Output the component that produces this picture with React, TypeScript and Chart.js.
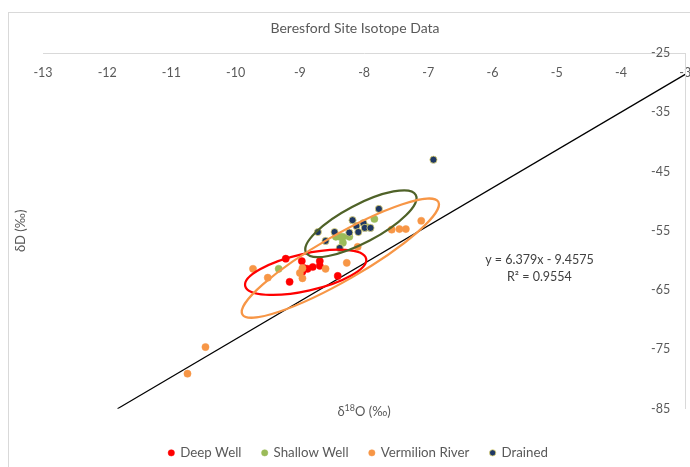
import React, { useEffect, useRef } from "react";
import { Chart, registerables } from "chart.js";

Chart.register(...registerables);

// ---------- data ----------
const deepWellX = [-9.22, -8.97, -8.69, -8.69, -8.8, -8.88, -8.93, -8.96, -9.16, -8.41];
const deepWellY = [-59.7, -60.1, -60.1, -60.9, -61.1, -61.4, -61.3, -61.9, -63.6, -62.6];

const shallowWellX = [-7.84, -8.44, -8.38, -8.33, -8.23, -8.33, -9.33, -7.95];
const shallowWellY = [-53.0, -56.0, -56.0, -56.0, -56.0, -57.0, -61.4, -54.4];

const vermilionX = [-7.11, -7.57, -7.45, -7.35, -8.1, -8.27, -8.6, -8.96, -9.0, -8.96, -9.5, -9.73, -10.47, -10.75];
const vermilionY = [-53.3, -54.8, -54.7, -54.7, -57.7, -60.4, -61.4, -61.3, -62.1, -63.0, -62.9, -61.4, -74.6, -79.1];

const drainedX = [-6.92, -8.72, -8.46, -8.18, -8.12, -8.01, -8.23, -8.09, -7.99, -7.9, -7.77, -8.38, -8.6];
const drainedY = [-43.0, -55.2, -55.2, -53.2, -54.2, -53.7, -55.3, -55.2, -54.5, -54.5, -51.3, -57.9, -56.7];

// trendline end points (y = 6.379x - 9.4575)
const trendX = [-11.84, -3];
const trendY = [-85, -28.6];

const seriesNames = ["Deep Well", "Shallow Well", "Vermilion River", "Drained"];
const titleText = "Beresford Site Isotope Data";
const equationLines = ["y = 6.379x - 9.4575", "R² = 0.9554"];

const xMin = -13;
const xMax = -3;
const yMin = -85;
const yMax = -25;

// ---------- styles ----------
const FONT = "Lato, 'Open Sans', sans-serif";
const TEXT = "#595959";
const colors = {
  deep: "#FF0000",
  shallow: "#9BBB59",
  verm: "#F79646",
  drained: "#1F3864",
};

// hand-drawn ellipses (center in data units, radii in px, angle in deg)
const ellipses = [
  { cx: -8.91, cy: -62.0, rx: 62, ry: 18.5, angle: -12.7, color: "#FF0000" },
  { cx: -8.05, cy: -53.8, rx: 62, ry: 19, angle: -27.7, color: "#4F6228" },
  { cx: -8.37, cy: -59.6, rx: 113, ry: 22.5, angle: -29.9, color: "#F79646" },
];
const equationAnchor = { x: -5.27, y: -59.9 };

const pts = (xs: number[], ys: number[]) => xs.map((x, i) => ({ x, y: ys[i] }));

const overlayPlugin = {
  id: "overlay",
  beforeDraw(chart: any) {
    const { ctx } = chart;
    ctx.save();
    ctx.strokeStyle = "#D9D9D9";
    ctx.lineWidth = 1;
    ctx.strokeRect(8.5, 12.5, 700, 480);
    ctx.restore();
  },
  afterDatasetsDraw(chart: any) {
    const { ctx, scales, chartArea } = chart;
    const xs = scales.x;
    const ys = scales.y;
    ctx.save();
    // ellipses
    ellipses.forEach((e) => {
      ctx.beginPath();
      ctx.strokeStyle = e.color;
      ctx.lineWidth = 2.25;
      ctx.ellipse(
        xs.getPixelForValue(e.cx),
        ys.getPixelForValue(e.cy),
        e.rx,
        e.ry,
        (e.angle * Math.PI) / 180,
        0,
        Math.PI * 2
      );
      ctx.stroke();
    });
    // equation
    ctx.fillStyle = "#404040";
    ctx.font = `12.5px ${FONT}`;
    ctx.textAlign = "center";
    ctx.textBaseline = "middle";
    const ex = xs.getPixelForValue(equationAnchor.x);
    const ey = ys.getPixelForValue(equationAnchor.y);
    ctx.fillText(equationLines[0], ex, ey);
    ctx.fillText(equationLines[1], ex, ey + 17);

    // title
    ctx.fillStyle = TEXT;
    ctx.font = `14px ${FONT}`;
    ctx.fillText(titleText, 355, 28);

    // y axis title (rotated)
    ctx.save();
    ctx.translate(21, (chartArea.top + chartArea.bottom) / 2);
    ctx.rotate(-Math.PI / 2);
    ctx.font = `13px ${FONT}`;
    ctx.fillText("δD (‰)", 0, 0);
    ctx.restore();

    // x axis title with superscript
    const cx = (chartArea.left + chartArea.right) / 2;
    const cy = chartArea.bottom + 3;
    const a = "δ";
    const b = "18";
    const c = "O (‰)";
    ctx.font = `13px ${FONT}`;
    const wa = ctx.measureText(a).width;
    const wc = ctx.measureText(c).width;
    ctx.font = `9px ${FONT}`;
    const wb = ctx.measureText(b).width;
    let x0 = cx - (wa + wb + wc) / 2;
    ctx.textAlign = "left";
    ctx.font = `13px ${FONT}`;
    ctx.fillText(a, x0, cy);
    x0 += wa;
    ctx.font = `9px ${FONT}`;
    ctx.fillText(b, x0, cy - 4);
    x0 += wb;
    ctx.font = `13px ${FONT}`;
    ctx.fillText(c, x0, cy);
    ctx.restore();
  },
};

export default function App() {
  const ref = useRef<HTMLCanvasElement>(null);
  useEffect(() => {
    if (!ref.current) return;
    const chart = new Chart(ref.current, {
      type: "scatter",
      data: {
        datasets: [
          {
            label: seriesNames[0],
            data: pts(deepWellX, deepWellY),
            backgroundColor: colors.deep,
            borderColor: colors.deep,
            borderWidth: 0.5,
            pointRadius: 3.6,
            order: 4,
          },
          {
            label: seriesNames[1],
            data: pts(shallowWellX, shallowWellY),
            backgroundColor: colors.shallow,
            borderColor: colors.shallow,
            borderWidth: 0.5,
            pointRadius: 3.6,
            order: 3,
          },
          {
            label: seriesNames[2],
            data: pts(vermilionX, vermilionY),
            backgroundColor: colors.verm,
            borderColor: colors.verm,
            borderWidth: 0.5,
            pointRadius: 3.6,
            order: 2,
          },
          {
            label: seriesNames[3],
            data: pts(drainedX, drainedY),
            backgroundColor: colors.drained,
            borderColor: "#E8DC7A",
            borderWidth: 0.8,
            pointRadius: 3.6,
            order: 1,
          },
          {
            type: "line",
            label: "Trend",
            data: pts(trendX, trendY),
            borderColor: "#000000",
            borderWidth: 1.25,
            pointRadius: 0,
            showLine: true,
            fill: false,
            order: 5,
          } as any,
        ],
      },
      options: {
        responsive: false,
        animation: false,
        layout: { padding: { left: 27, right: 0, top: 53, bottom: -2.5 } },
        plugins: {
          title: { display: false },
          tooltip: { enabled: false },
          legend: {
            display: true,
            position: "bottom",
            labels: {
              usePointStyle: true,
              pointStyle: "circle",
              boxWidth: 4.5,
              boxHeight: 4.5,
              padding: 21,
              color: TEXT,
              font: { family: FONT, size: 13.3 },
              filter: (item: any) => item.text !== "Trend",
              sort: (a: any, b: any) => a.datasetIndex - b.datasetIndex,
            },
          },
        },
        scales: {
          x: {
            type: "linear",
            position: "top",
            min: xMin,
            max: xMax,
            grid: { display: false },
            border: { display: true, color: "#D9D9D9", width: 1 },
            ticks: {
              stepSize: 1,
              mirror: true,
              padding: 12,
              color: TEXT,
              font: { family: FONT, size: 12.5 },
              maxRotation: 0,
              autoSkip: false,
            },
            afterFit: (s: any) => {
              s.height = 0;
              s.paddingLeft = 0;
              s.paddingRight = 0;
            },
          },
          y: {
            type: "linear",
            position: "right",
            min: yMin,
            max: yMax,
            grid: { display: false },
            border: { display: true, color: "#D9D9D9", width: 1 },
            ticks: {
              stepSize: 10,
              mirror: true,
              padding: -15,
              color: TEXT,
              font: { family: FONT, size: 12.5 },
            },
            afterFit: (s: any) => {
              s.width = 4;
              s.paddingTop = 0;
              s.paddingBottom = 0;
            },
          },
          yLeft: {
            type: "linear",
            position: "left",
            display: true,
            grid: { display: false },
            border: { display: false },
            ticks: { display: false },
            afterFit: (s: any) => {
              s.width = 16;
              s.paddingTop = 0;
              s.paddingBottom = 0;
            },
          },
          xBottom: {
            type: "linear",
            position: "bottom",
            display: true,
            grid: { display: false },
            border: { display: false },
            ticks: { display: false },
            afterFit: (s: any) => {
              s.height = 16.5;
              s.paddingLeft = 0;
              s.paddingRight = 0;
            },
          },
        },
      } as any,
      plugins: [overlayPlugin],
    });
    return () => chart.destroy();
  }, []);
  return (
    <div style={{ position: "absolute", left: 0, top: 0, width: 690, height: 467 }}>
      <canvas ref={ref} width={690} height={467} style={{ display: "block" }} />
    </div>
  );
}
